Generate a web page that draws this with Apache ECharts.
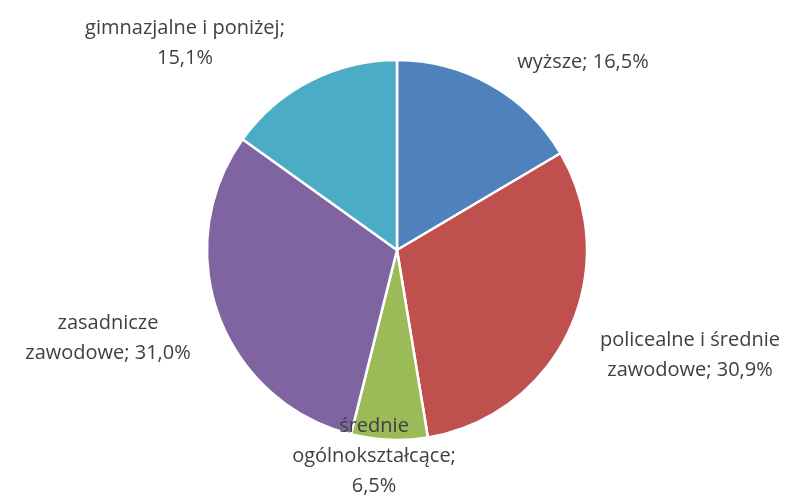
<!DOCTYPE html>
<html>
<head>
<meta charset="utf-8">
<script src="https://cdn.jsdelivr.net/npm/echarts@6/dist/echarts.min.js"></script>
<style>
  html, body { margin: 0; padding: 0; background: #fff; }
  #chart { width: 798px; height: 495px; }
</style>
</head>
<body>
<div id="chart"></div>
<script>
// kategorie wykształcenia i udziały w %
var categories = ["wyższe", "policealne i średnie zawodowe", "średnie ogólnokształcące", "zasadnicze zawodowe", "gimnazjalne i poniżej"];
var values = [16.5, 30.9, 6.5, 31.0, 15.1];
var labelTexts = [
  "wyższe; 16,5%",
  "policealne i średnie\nzawodowe; 30,9%",
  "średnie\nogólnokształcące;\n6,5%",
  "zasadnicze\nzawodowe; 31,0%",
  "gimnazjalne i poniżej;\n15,1%"
];
var colors = ["#4F81BD", "#C0504D", "#9BBB59", "#8064A2", "#4BACC6"];

// pozycje środków etykiet (x, y)
var labelPos = [[583, 62], [690, 355], [374, 456], [108, 338], [185, 43]];

var myChart = echarts.init(document.getElementById("chart"));
myChart.setOption({
  animation: false,
  color: colors,
  series: [
    {
      type: "pie",
      center: [397, 250],
      radius: [0, 190],
      startAngle: 90,
      clockwise: true,
      itemStyle: {
        borderColor: "#fff",
        borderWidth: 2.5
      },
      label: {
        show: true,
        position: "outside",
        formatter: function (p) {
          return labelTexts[p.dataIndex];
        },
        color: "#404040",
        fontFamily: "Open Sans",
        fontSize: 20,
        lineHeight: 30,
        align: "center",
        overflow: "none"
      },
      labelLine: { show: false },
      labelLayout: function (params) {
        var p = labelPos[params.dataIndex];
        return {
          x: p[0],
          y: p[1],
          align: "center",
          verticalAlign: "middle"
        };
      },
      data: categories.map(function (c, i) {
        return { name: c, value: values[i] };
      })
    }
  ]
});
</script>
</body>
</html>
